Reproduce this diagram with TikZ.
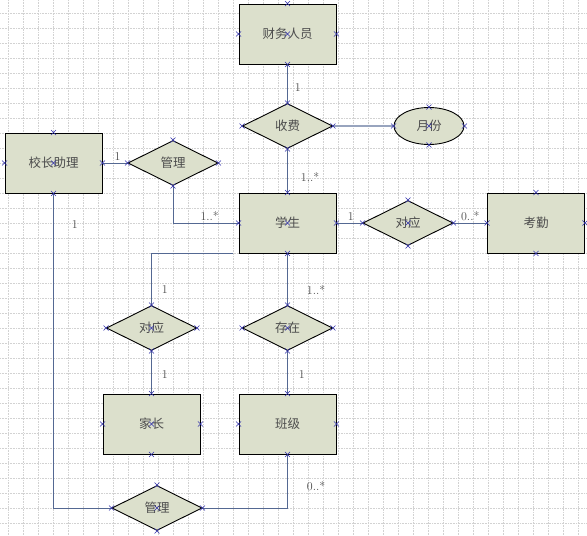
\documentclass[tikz,border=0pt]{standalone}
\usepackage{fontspec}
\usetikzlibrary{shapes.geometric}
\newfontfamily\cjk{Noto Sans CJK SC}
\definecolor{boxfill}{RGB}{220,224,204}
\definecolor{linec}{RGB}{84,104,146}
\definecolor{xcol}{RGB}{50,50,170}

\begin{document}
\begin{tikzpicture}[x=1pt, y=-1pt, node distance=90pt,
    block/.style={rectangle, draw, line width=0.9pt, fill=boxfill, minimum width=97pt, minimum height=60pt, font=\cjk\fontsize{12.5}{14}\selectfont, text=black!70},
    rel/.style={diamond, draw, line width=0.9pt, fill=boxfill, aspect=2, inner sep=0pt, minimum width=90pt, minimum height=45pt, font=\cjk\fontsize{12.5}{14}\selectfont, text=black!70},
    attr/.style={ellipse, draw, line width=0.9pt, fill=boxfill, minimum width=70pt, minimum height=37pt, font=\cjk\fontsize{12.5}{14}\selectfont, text=black!70},
    line/.style={draw, linec, line width=0.8pt},
    lbl/.style={font=\fontsize{12}{14}\selectfont, text=black!70, inner sep=1pt},
    xmk/.pic={\draw[xcol, line width=0.6pt] (-2.5,-2.5) -- (2.5,2.5) (-2.5,2.5) -- (2.5,-2.5);}]

    % background grid
    \useasboundingbox (0,0) rectangle (587,536);
    \fill[white] (0,0) rectangle (587,536);
    \foreach \gx in {8,23,...,578}
        \draw[gray!35, densely dotted, line width=0.6pt] (\gx,0) -- (\gx,536);
    \foreach \gy in {13,28,...,533}
        \draw[gray!35, densely dotted, line width=0.6pt] (0,\gy) -- (587,\gy);

    % entities and relations
    \node [block] (finance) at (287.5,34) {财务人员};
    \node [rel, below of=finance, node distance=92pt] (fee) {收费};
    \node [attr, right of=fee, node distance=141.5pt] (month) {月份};
    \node [block, below of=fee, node distance=97pt] (student) {学生};
    \node [rel, right of=student, node distance=120.5pt] (corr1) {对应};
    \node [block, right of=corr1, node distance=128pt] (attend) {考勤};
    \node [block] (assistant) at (53.5,163) {校长助理};
    \node [rel, right of=assistant, node distance=119.5pt] (manage1) {管理};
    \node [rel, below of=student, node distance=105pt] (exist) {存在};
    \node [rel, left of=exist, node distance=136pt] (corr2) {对应};
    \node [block, below of=exist, node distance=96pt] (class) {班级};
    \node [block, below of=corr2, node distance=96pt] (parent) {家长};
    \node [rel, below of=parent, node distance=84pt, xshift=5.5pt] (manage2) {管理};

    % connectors
    \path [line] (finance) -- node[lbl, pos=0.6, right=6pt] (m1) {1} (fee);
    \path [line, line width=2.2pt, linec!60] (fee.east) -- (month.west);
    \path [line] (fee) -- node[lbl, pos=0.65, right=12pt] (m2) {1..*} (student);
    \path [line] (assistant) -- node[lbl, pos=0.6, above=1pt] (m3) {1} (manage1);
    \path [line] (manage1.south) |- node[lbl, pos=0.78, above=1pt] (m4) {1..*} (student.west);
    \path [line] (student) -- node[lbl, pos=0.55, above=1pt] (m5) {1} (corr1);
    \path [line] (corr1) -- node[lbl, pos=0.5, above=1pt] (m6) {0..*} (attend);
    \path [line] (assistant.south) |- node[lbl, pos=0.05, right=17pt] (m7) {1} (manage2.west);
    \path [line] ([xshift=-6pt]student.south west) -| node[lbl, pos=0.85, right=9pt] (m8) {1} (corr2.north);
    \path [line] (student) -- node[lbl, pos=0.7, right=18pt] (m9) {1..*} (exist);
    \path [line] (corr2) -- node[lbl, pos=0.55, right=9pt] (m10) {1} (parent);
    \path [line] (exist) -- node[lbl, pos=0.55, right=10pt] (m11) {1} (class);
    \path [line] (class.south) |- node[lbl, pos=0.3, right=18pt] (m12) {0..*} (manage2.east);

    % connection points
    \foreach \n in {finance,fee,month,student,corr1,attend,assistant,manage1,exist,corr2,class,parent,manage2}
        \foreach \a in {north,south,east,west}
            \pic at (\n.\a) {xmk};
    \foreach \n in {finance,month,student,corr1,assistant,exist,corr2,parent,manage2}
        \pic at (\n.center) {xmk};
\end{tikzpicture}
\end{document}
